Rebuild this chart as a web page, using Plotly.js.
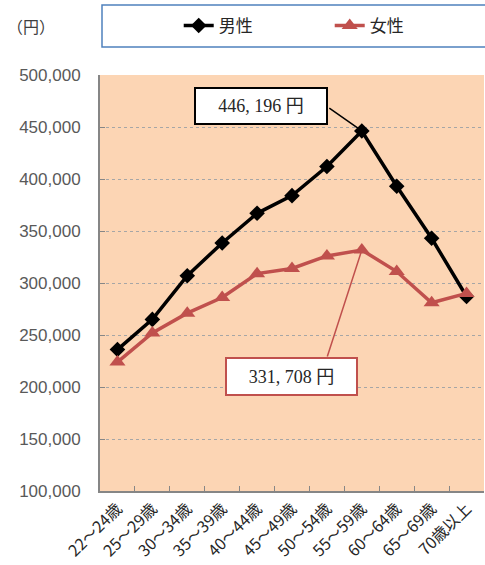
<!DOCTYPE html>
<html><head><meta charset="utf-8">
<script src="https://cdn.plot.ly/plotly-3.0.1.min.js"></script>
<style>body{margin:0;background:#fff}#c{width:485px;height:565px}</style>
</head><body><div id="c"></div>
<script>
const categories = ['22～24歳','25～29歳','30～34歳','35～39歳','40～44歳','45～49歳','50～54歳','55～59歳','60～64歳','65～69歳','70歳以上'];
const maleValues = [236000, 265000, 307000, 338500, 367000, 384000, 412000, 446196, 393000, 343000, 287000];
const femaleValues = [224000, 252000, 271000, 286000, 309000, 314000, 326000, 331708, 311000, 281000, 290000];
const maleName = '男性';
const femaleName = '女性';
const unitLabel = '（円）';
const maleCallout = '446, 196 円';
const femaleCallout = '331, 708 円';
const peakIndex = 7;

const red = '#C0504D';
const serif = '"Liberation Serif", "Noto Sans CJK JP", serif';
const sans = '"Liberation Sans", "Noto Sans CJK JP", sans-serif';

const traces = [
  {x: categories, y: maleValues, name: maleName, type: 'scatter', mode: 'lines+markers',
   line: {color: '#000000', width: 3.5}, marker: {symbol: 'diamond', size: 12, color: '#000000'}},
  {x: categories, y: femaleValues, name: femaleName, type: 'scatter', mode: 'lines+markers',
   line: {color: red, width: 3.5}, marker: {symbol: 'triangle-up', size: 14, color: red}}
];

const layout = {
  width: 485, height: 565,
  margin: {l: 100, r: 1, t: 75, b: 74},
  paper_bgcolor: '#ffffff', plot_bgcolor: '#FCD5B4',
  font: {family: sans, color: '#404040'},
  showlegend: true,
  legend: {orientation: 'h', x: 0.205, xanchor: 'left', y: 1.118, yanchor: 'middle',
           font: {size: 17, color: '#262626', family: '"Noto Sans CJK JP", sans-serif'},
           bgcolor: 'rgba(0,0,0,0)', entrywidth: 106, entrywidthmode: 'pixels'},
  xaxis: {type: 'category', tickson: 'boundaries', ticks: 'inside', ticklen: 5, tickcolor: '#868686',
          showline: true, linecolor: '#868686', linewidth: 2, showgrid: false, tickangle: -45,
          tickfont: {size: 16, color: '#262626', family: '"Noto Sans CJK JP", sans-serif'},
          range: [-0.5, 10.5], fixedrange: true},
  yaxis: {range: [100000, 500000], dtick: 50000, tickformat: ',', ticks: 'inside', ticklen: 5,
          tickcolor: '#868686', showline: true, linecolor: '#868686', linewidth: 2,
          showgrid: true, gridcolor: '#A6A6A6', gridwidth: 1, griddash: 'dot', zeroline: false,
          tickfont: {size: 17, color: '#595959', family: sans}, ticklabelstandoff: 14},
  shapes: [
    {type: 'rect', xref: 'paper', yref: 'paper', x0: 2/384, x1: 1.02, y0: (491-47)/416, y1: (491-5)/416,
     line: {color: '#4F81BD', width: 1.5}, fillcolor: 'rgba(0,0,0,0)', layer: 'above'}
  ],
  annotations: [
    {xref: 'paper', yref: 'paper', x: -95/384, y: (491-26)/416, xanchor: 'left', yanchor: 'middle',
     text: unitLabel, showarrow: false, font: {size: 16, color: '#404040', family: '"Noto Sans CJK JP", sans-serif'}},
    {x: categories[peakIndex], y: maleValues[peakIndex], text: '', showarrow: true, arrowhead: 0,
     ax: -34, ay: -24, arrowwidth: 1.5, arrowcolor: '#000000', standoff: 0},
    {x: categories[peakIndex], y: femaleValues[peakIndex], text: '', showarrow: true, arrowhead: 0,
     ax: -35, ay: 108, arrowwidth: 1.5, arrowcolor: red, standoff: 0},
    {x: categories[peakIndex], y: maleValues[peakIndex], text: maleCallout, showarrow: false,
     xshift: -101, yshift: 25, bgcolor: '#ffffff', bordercolor: '#000000', borderwidth: 2, borderpad: 0,
     width: 130, height: 34, font: {family: serif, size: 18, color: '#262626'}},
    {x: categories[peakIndex], y: femaleValues[peakIndex], text: femaleCallout, showarrow: false,
     xshift: -70.5, yshift: -126.5, bgcolor: '#ffffff', bordercolor: red, borderwidth: 2, borderpad: 0,
     width: 129, height: 35, font: {family: serif, size: 18, color: '#262626'}}
  ]
};

Plotly.newPlot('c', traces, layout, {displayModeBar: false, staticPlot: true});
</script></body></html>
